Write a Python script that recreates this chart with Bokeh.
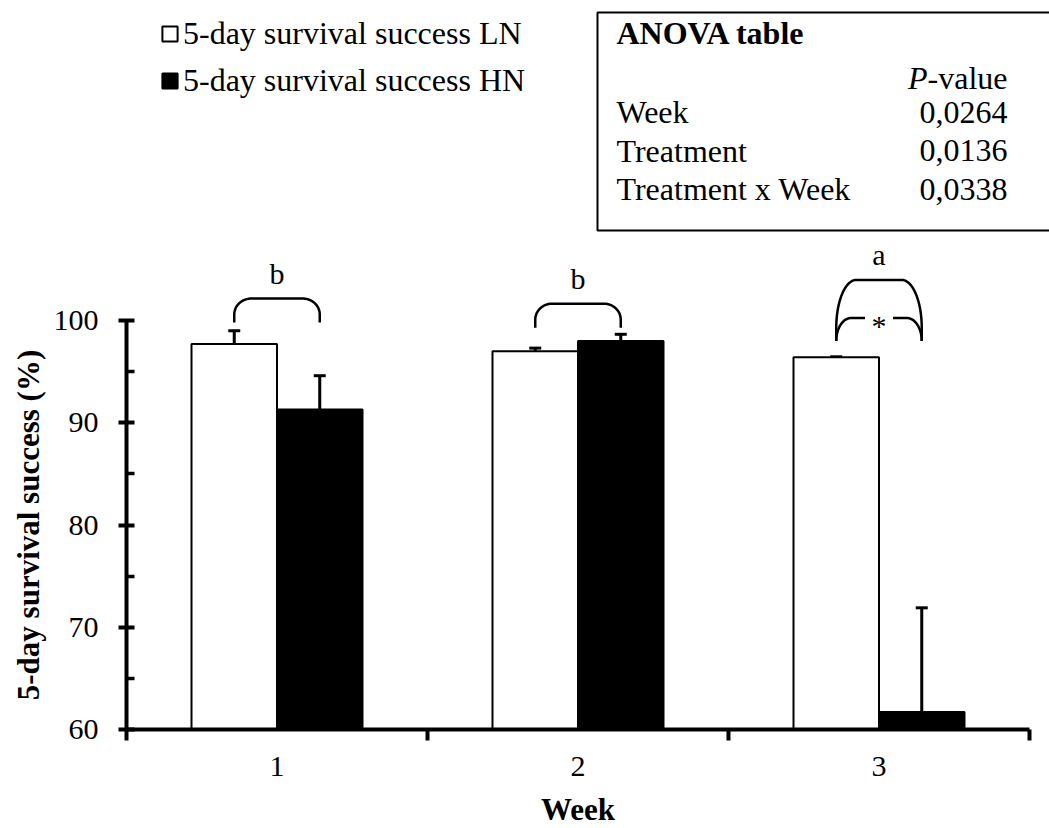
import numpy as np
from bokeh.plotting import figure
from bokeh.models import (Range1d, FixedTicker, Label, Legend, LegendItem,
                          Whisker, TeeHead, ColumnDataSource)
from bokeh.embed import file_html
from bokeh.resources import INLINE

# ---- data -------------------------------------------------------------
weeks = ["1", "2", "3"]
ln_mean = [97.7, 97.0, 96.4]       # 5-day survival success, LN (%)
ln_err = [1.3, 0.3, 0.05]
hn_mean = [91.3, 98.0, 61.7]       # 5-day survival success, HN (%)
hn_err = [3.3, 0.65, 10.2]
group_letters = ["b", "b", "a"]
bracket_base = [99.8, 99.3, 98.0]  # bottom of each comparison bracket (%)
anova_terms = ["Week", "Treatment", "Treatment x Week"]
anova_p = ["0,0264", "0,0136", "0,0338"]

# ---- layout -----------------------------------------------------------
# The plotting frame covers the whole canvas; the axes are pinned inside it.
W, H = 1049, 828
AX_X, AX_Y = 126, 729   # canvas position of the axes' origin
PX_X = 301.0            # pixels per week slot
PX_Y = 10.225           # pixels per percentage point
Y0 = 60
BAR_W = 85.5 / PX_X
FONT = "Liberation Serif"


def dx(px):
    """canvas pixel x -> data x"""
    return (px - AX_X) / PX_X


def dy(py):
    """canvas pixel y -> data y"""
    return Y0 + (AX_Y - py) / PX_Y


def px_x(x):
    return AX_X + x * PX_X


def px_y(y):
    return AX_Y - (y - Y0) * PX_Y


p = figure(width=W, height=H,
           x_range=Range1d(dx(0), dx(W)),
           y_range=Range1d(dy(H), dy(0)),
           output_backend="svg", toolbar_location=None,
           min_border=0)
p.outline_line_color = None
p.xgrid.visible = False
p.ygrid.visible = False
p.background_fill_color = "white"
p.border_fill_color = "white"

# x axis: labels at slot centres, ticks at slot boundaries
xa = p.xaxis[0]
xa.fixed_location = Y0
xa.ticker = FixedTicker(ticks=[i + 0.5 for i in range(len(weeks))],
                        minor_ticks=list(range(len(weeks) + 1)))
xa.major_label_overrides = {i + 0.5: w for i, w in enumerate(weeks)}
xa.bounds = (0, len(weeks))
xa.axis_line_width = 4
xa.axis_line_color = "black"
xa.major_tick_in = 0
xa.major_tick_out = 0
xa.minor_tick_in = 0
xa.minor_tick_out = 11
xa.minor_tick_line_width = 4
xa.minor_tick_line_color = "black"
xa.major_label_standoff = 16
xa.major_label_text_font = FONT
xa.major_label_text_font_size = "30px"
xa.major_label_text_color = "black"

ya = p.yaxis[0]
ya.fixed_location = 0
ya.ticker = FixedTicker(ticks=[60, 70, 80, 90, 100], minor_ticks=[65, 75, 85, 95])
ya.bounds = (60, 100)
ya.axis_line_width = 4
ya.axis_line_color = "black"
ya.major_tick_in = 8
ya.major_tick_out = 8
ya.major_tick_line_width = 4
ya.major_tick_line_color = "black"
ya.minor_tick_in = 8
ya.minor_tick_out = 0
ya.minor_tick_line_width = 3.5
ya.minor_tick_line_color = "black"
ya.major_label_standoff = 20
ya.major_label_text_font = FONT
ya.major_label_text_font_size = "30px"
ya.major_label_text_color = "black"


def text_label(px, py, text, size="30px", align="center", **kw):
    return Label(x=dx(px), y=dy(py), text=text, text_font=FONT,
                 text_font_size=size, text_align=align,
                 text_baseline="middle", text_color="black", **kw)


# axis titles
p.add_layout(text_label(28, 524.5, "5-day survival success (%)", size="31px",
                        angle=np.pi / 2, text_font_style="bold"))
p.add_layout(text_label(577.5, 809, "Week", size="31px", text_font_style="bold"))

# ---- bars and error bars ---------------------------------------------
idx = np.arange(len(weeks))
x_ln = idx + 0.5 - BAR_W / 2
x_hn = idx + 0.5 + BAR_W / 2
src = ColumnDataSource(dict(
    x_ln=x_ln, x_hn=x_hn,
    ln=ln_mean, hn=hn_mean,
    ln_hi=np.array(ln_mean) + np.array(ln_err),
    hn_hi=np.array(hn_mean) + np.array(hn_err),
))

r_ln = p.vbar(x="x_ln", top="ln", bottom=Y0, width=BAR_W, source=src,
              fill_color="white", line_color="black", line_width=2)
r_hn = p.vbar(x="x_hn", top="hn", bottom=Y0, width=BAR_W, source=src,
              fill_color="black", line_color="black", line_width=2)

for base, lo, hi in (("x_ln", "ln", "ln_hi"), ("x_hn", "hn", "hn_hi")):
    p.add_layout(Whisker(base=base, lower=lo, upper=hi, source=src,
                         line_width=3, line_color="black",
                         lower_head=None,
                         upper_head=TeeHead(size=12, line_width=3,
                                            line_color="black")))


# ---- comparison brackets ---------------------------------------------
def bracket(x0, x1, base_py, height, rx, ry, gap=None, n=24):
    """Rounded bracket in canvas pixels; returns list of (xs, ys) paths."""
    top = base_py - height
    t1 = np.linspace(np.pi, np.pi / 2, n)
    lx = list(x0 + rx + rx * np.cos(t1))
    ly = list(top + ry - ry * np.sin(t1))
    t2 = np.linspace(np.pi / 2, 0, n)
    rxs = list(x1 - rx + rx * np.cos(t2))
    rys = list(top + ry - ry * np.sin(t2))
    left = ([x0] + lx, [base_py] + ly)
    right = (rxs + [x1], rys + [base_py])
    if gap is None:
        return [(left[0] + right[0], left[1] + right[1])]
    mid = (x0 + x1) / 2
    return [(left[0] + [mid - gap], left[1] + [top]),
            ([mid + gap] + right[0], [top] + right[1])]


xs_all, ys_all = [], []
for i in range(len(weeks)):
    a = px_x(x_ln[i])
    b = px_x(x_hn[i])
    base = px_y(bracket_base[i])
    if i < 2:
        paths = bracket(a, b, base, 24, 17, 16)
        top = base - 24
    else:
        paths = bracket(a, b, base, 61, 20, 48)
        paths += bracket(a, b, base, 23, 15, 23, gap=14)
        top = base - 61
        p.add_layout(text_label((a + b) / 2, base - 15, "*"))
    for pxs, pys in paths:
        xs_all.append([dx(v) for v in pxs])
        ys_all.append([dy(v) for v in pys])
    p.add_layout(text_label((a + b) / 2, top - 25, group_letters[i]))

p.multi_line(xs_all, ys_all, line_color="black", line_width=2.5)

# ---- legend -----------------------------------------------------------
legend = Legend(items=[LegendItem(label="5-day survival success LN", renderers=[r_ln]),
                       LegendItem(label="5-day survival success HN", renderers=[r_hn])],
                location=(AX_X + 34, H - 99),
                glyph_width=19, glyph_height=19, label_standoff=4,
                spacing=10, padding=0, margin=0,
                border_line_color=None, background_fill_alpha=0,
                label_text_font=FONT, label_text_font_size="32px",
                label_text_color="black")
p.add_layout(legend)

# ---- ANOVA table ------------------------------------------------------
box_l, box_t, box_b = 597, 12, 230
p.line([dx(W + 20), dx(box_l), dx(box_l), dx(W + 20)],
       [dy(box_t), dy(box_t), dy(box_b), dy(box_b)],
       line_color="black", line_width=2)

col_l, col_r = 616, 1007
p.add_layout(text_label(col_l, 32, "ANOVA table", size="32px", align="left",
                        text_font_style="bold"))
p.add_layout(text_label(col_r, 77, "-value", size="32px", align="right"))
p.add_layout(text_label(col_r - 80, 77, "P", size="32px", align="right",
                        text_font_style="italic"))
for k, (term, pv) in enumerate(zip(anova_terms, anova_p)):
    cy = 111.5 + k * 38.6
    p.add_layout(text_label(col_l, cy, term, size="32px", align="left"))
    p.add_layout(text_label(col_r, cy, pv, size="32px", align="right"))

open("out.html", "w").write(file_html(p, INLINE))
